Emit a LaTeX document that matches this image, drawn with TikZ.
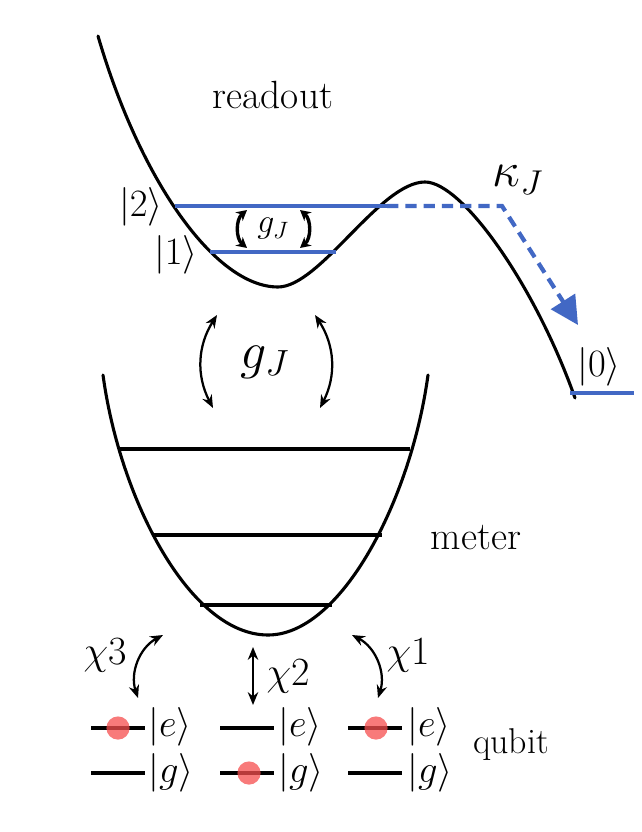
\RequirePackage{fix-cm}
\documentclass[tikz,border=0pt]{standalone}
\usepackage{amsmath, amssymb}
\usepackage{xcolor}
\usetikzlibrary{arrows.meta, positioning, calc}
\definecolor{levelblue}{RGB}{66,104,196}
\definecolor{dotred}{RGB}{246,78,78}

\begin{document}
\begin{tikzpicture}[
    x=0.025cm, y=-0.025cm,
    pot/.style={line width=2.2pt, line join=round, line cap=round},
    lvl/.style={line width=2.2pt},
    blvl/.style={line width=2.2pt, levelblue},
    txt/.style={font=\fontsize{28}{32}\selectfont, inner sep=0pt},
    ket/.style={font=\fontsize{27.5}{32}\selectfont, inner sep=0pt},
    cpl/.style={line width=1.6pt, {Stealth[length=3.2mm,width=2.6mm]}-{Stealth[length=3.2mm,width=2.6mm]}},
    cplsmall/.style={line width=2.4pt, {Stealth[length=2.6mm,width=2.8mm]}-{Stealth[length=2.6mm,width=2.8mm]}},
    qdot/.style={circle, fill=dotred, fill opacity=0.75, minimum size=5.8mm, inner sep=0pt}
  ]
  \useasboundingbox (0,0) rectangle (642,832);

  % readout potential
  \draw[pot] (98,36) .. controls (140,180) and (215,287) .. (278,287)
    .. controls (320,287) and (380,182) .. (425,182)
    .. controls (462,182) and (535,285) .. (575,398);
  \draw[blvl] (175,206) coordinate (l2a) -- (387,206) coordinate (l2b);
  \draw[blvl] (210,252) coordinate (l1a) -- (336,252) coordinate (l1b);
  \coordinate (kc) at (502,206);
  \coordinate (kt) at (578,325);
  \draw[levelblue, line width=3pt, dash pattern=on 8pt off 5pt,
    -{Triangle[length=7mm, width=7mm]}] (l2b) -- (kc) -- (kt);
  \draw[blvl] (570,393) coordinate (l0a) -- (634,393) coordinate (l0b);

  \node[txt] (readout) at (273,95) {readout};
  \node[ket, anchor=east] (ket2) at (163,207) {$|2\rangle$};
  \node[ket, anchor=east] (ket1) at (198,255) {$|1\rangle$};
  \node[ket, anchor=west] (ket0) at (577,367) {$|0\rangle$};
  \node[font=\fontsize{35}{40}\selectfont, inner sep=0pt] (kappa) at (518,180) {$\kappa_J$};

  \node[font=\fontsize{24}{28}\selectfont, inner sep=0pt] (gsmall) at (273,229) {$g_J$};
  \coordinate (gsl1) at (247,210); \coordinate (gsl2) at (247,248);
  \coordinate (gsr1) at (300,210); \coordinate (gsr2) at (300,248);
  \draw[cplsmall] (gsl1) to[bend right=50] (gsl2);
  \draw[cplsmall] (gsr1) to[bend left=50] (gsr2);

  \node[font=\fontsize{37}{42}\selectfont, inner sep=0pt] (gbig) at (265,362) {$g_J$};
  \coordinate (gbl1) at (217,315); \coordinate (gbl2) at (213,408);
  \coordinate (gbr1) at (315,315); \coordinate (gbr2) at (320,408);
  \draw[cpl] (gbl1) to[bend right=30] (gbl2);
  \draw[cpl] (gbr1) to[bend left=30] (gbr2);

  % meter potential
  \draw[pot] (103,375) .. controls (120,500) and (190,635) .. (268,635)
    .. controls (341,635) and (411,500) .. (428,375);
  \draw[lvl] (120,449) coordinate (m3a) -- (410,449) coordinate (m3b);
  \draw[lvl] (153,535) coordinate (m2a) -- (382,535) coordinate (m2b);
  \draw[lvl] (200,605) coordinate (m1a) -- (332,605) coordinate (m1b);
  \node[txt] (meter) at (476,538) {meter};

  % couplings to the qubits
  \coordinate (c3a) at (163,635); \coordinate (c3b) at (138,698);
  \coordinate (c2a) at (253,647); \coordinate (c2b) at (253,705);
  \coordinate (c1a) at (352,635); \coordinate (c1b) at (378,698);
  \draw[cpl] (c3a) to[bend right=40] (c3b);
  \draw[cpl] (c2a) -- (c2b);
  \draw[cpl] (c1a) to[bend left=40] (c1b);
  \node[font=\fontsize{28.5}{32}\selectfont, inner sep=0pt] (chi3) at (105,655) {$\chi3$};
  \node[font=\fontsize{28.5}{32}\selectfont, inner sep=0pt] (chi2) at (288,676) {$\chi2$};
  \node[font=\fontsize{28.5}{32}\selectfont, inner sep=0pt] (chi1) at (408,655) {$\chi1$};

  % qubits
  \draw[lvl] (91,728) coordinate (e3a) -- (145,728) coordinate (e3b);
  \draw[lvl] (91,773) coordinate (g3a) -- (145,773) coordinate (g3b);
  \draw[lvl] (220,728) coordinate (e2a) -- (274,728) coordinate (e2b);
  \draw[lvl] (220,773) coordinate (g2a) -- (274,773) coordinate (g2b);
  \draw[lvl] (348,728) coordinate (e1a) -- (402,728) coordinate (e1b);
  \draw[lvl] (348,773) coordinate (g1a) -- (402,773) coordinate (g1b);
  \node[qdot] (d3) at (118,728) {};
  \node[qdot] (d2) at (249,773) {};
  \node[qdot] (d1) at (376,728) {};
  \node[ket, anchor=west] (e3) at (148,727) {$|e\rangle$};
  \node[ket, anchor=west] (g3) at (148,773) {$|g\rangle$};
  \node[ket, anchor=west] (e2) at (278,727) {$|e\rangle$};
  \node[ket, anchor=west] (g2) at (278,773) {$|g\rangle$};
  \node[ket, anchor=west] (e1) at (407,727) {$|e\rangle$};
  \node[ket, anchor=west] (g1) at (407,773) {$|g\rangle$};
  \node[font=\fontsize{25.5}{30}\selectfont, inner sep=0pt] (qubit) at (511,745) {qubit};
\end{tikzpicture}
\end{document}
